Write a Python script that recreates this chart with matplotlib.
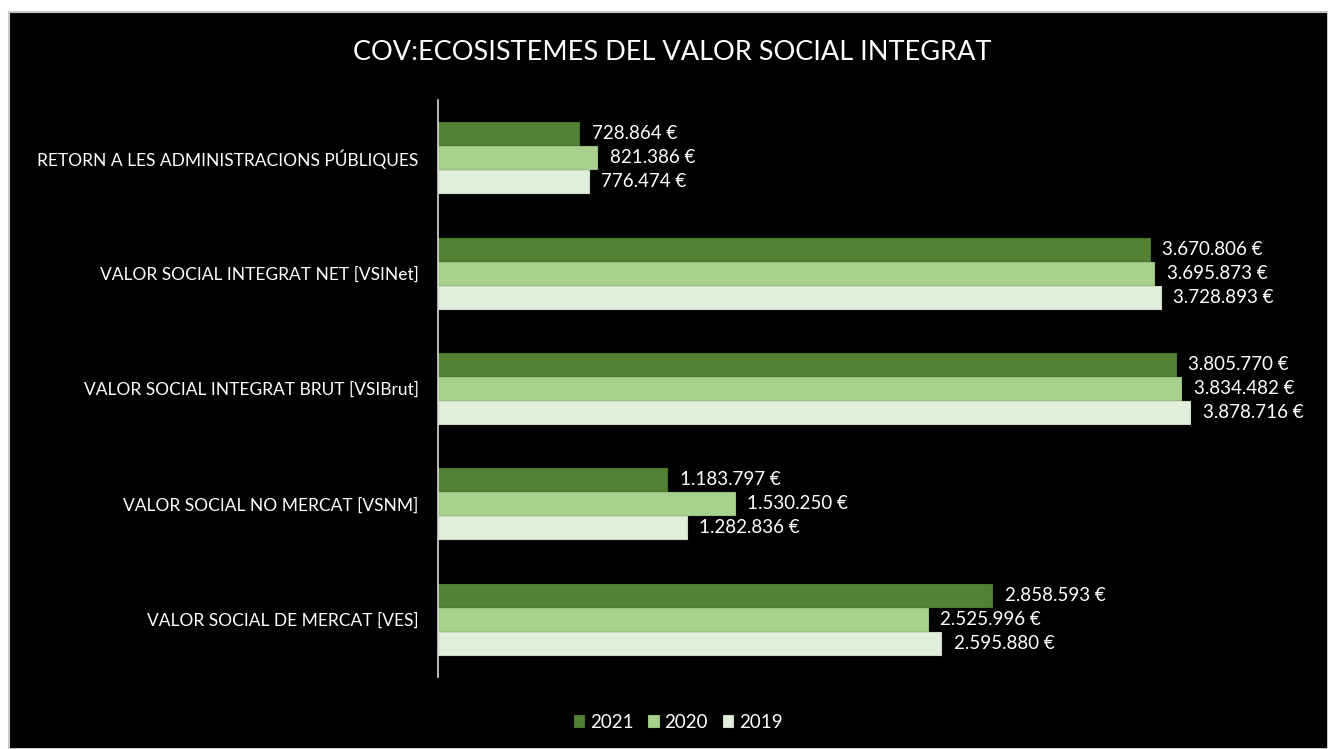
import numpy as np
import matplotlib
matplotlib.use('Agg')
from matplotlib import pyplot as plt
from matplotlib.patches import Rectangle

plt.rcParams['font.family'] = ['Lato', 'DejaVu Sans']

categories = ['VALOR SOCIAL DE MERCAT [VES]',
              'VALOR SOCIAL NO MERCAT [VSNM]',
              'VALOR SOCIAL INTEGRAT BRUT [VSIBrut]',
              'VALOR SOCIAL INTEGRAT NET [VSINet]',
              'RETORN A LES ADMINISTRACIONS PÚBLIQUES']
v2021 = [2858593, 1183797, 3805770, 3670806, 728864]
v2020 = [2525996, 1530250, 3834482, 3695873, 821386]
v2019 = [2595880, 1282836, 3878716, 3728893, 776474]
years = ['2021', '2020', '2019']
colors = ['#548235', '#A9D18E', '#E2EFDA']
edges = ['#4a7530', '#97bd7e', '#cbd8c3']

W, H = 1328, 749
fig = plt.figure(figsize=(W / 100, H / 100), dpi=100, facecolor='white')
fig.patches.append(Rectangle((9 / W, 0), 1 - 9 / W, (H - 12) / H, transform=fig.transFigure,
                             facecolor='black', edgecolor='#c8c8c8', linewidth=1.5, zorder=-5))

ax = fig.add_axes([438 / W, 72 / H, 872 / W, 577 / H])
ax.set_facecolor('black')

y = np.arange(len(categories))
h = 0.2
off = 0.208
for vals, yr, c, ec, d in zip([v2021, v2020, v2019], years, colors, edges, [off, 0, -off]):
    bars = ax.barh(y + d, vals, height=h, color=c, edgecolor=ec, linewidth=0.8, label=yr)
    for b, v in zip(bars, vals):
        txt = f'{v:,}'.replace(',', '.') + ' €'
        ax.text(b.get_width() + 65000, b.get_y() + b.get_height() / 2, txt,
                color='white', fontsize=13.5, va='center', ha='left')

ax.set_xlim(0, 4498000)
ax.set_ylim(-0.5, 4.5)
ax.set_yticks(y)
ax.set_yticklabels(categories, color='white', fontsize=12.5)
ax.tick_params(axis='y', length=0, pad=14)
ax.set_xticks([])
for s in ['top', 'right', 'bottom']:
    ax.spines[s].set_visible(False)
ax.spines['left'].set_color('#d9d9d9')
ax.spines['left'].set_linewidth(1.2)

fig.text(672 / W, 1 - 52 / H, 'COV:ECOSISTEMES DEL VALOR SOCIAL INTEGRAT',
         color='white', fontsize=19.5, ha='center', va='center')

leg = fig.legend(loc='center', bbox_to_anchor=(678 / W, 1 - 722 / H), ncol=3, frameon=False,
                 fontsize=13.5, labelcolor='white', handlelength=0.55, handleheight=0.55,
                 handletextpad=0.3, columnspacing=0.8)

fig.savefig('out.png', dpi=100, facecolor='white')
